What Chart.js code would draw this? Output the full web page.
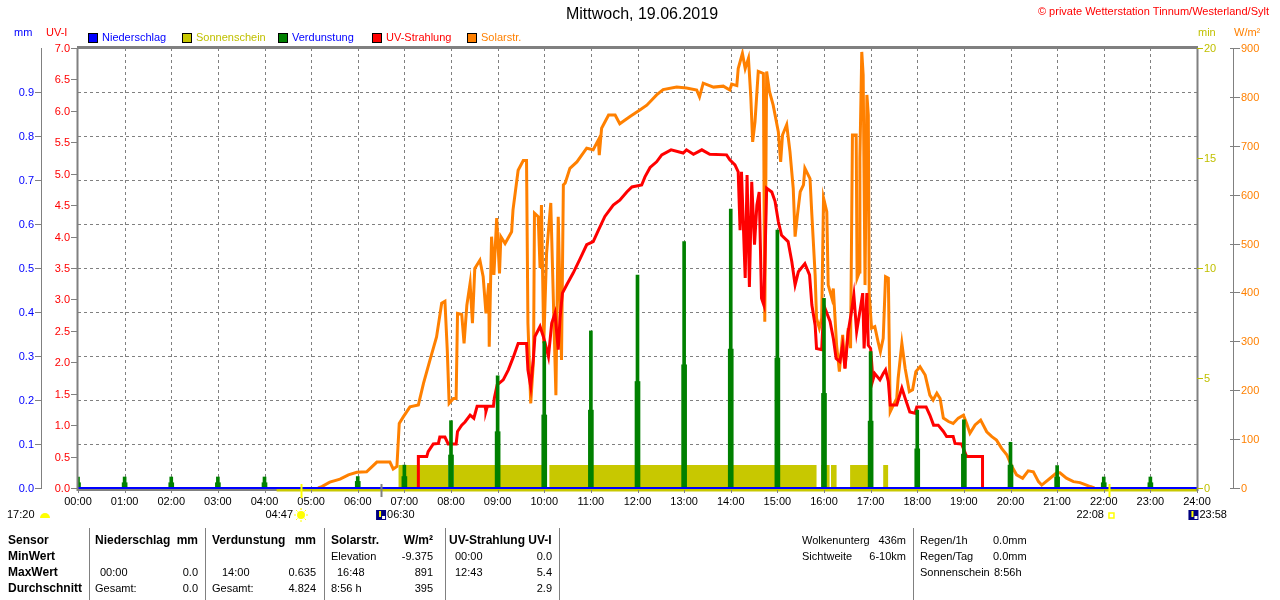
<!DOCTYPE html>
<html>
<head>
<meta charset="utf-8">
<title>Mittwoch, 19.06.2019</title>
<script src="https://cdn.jsdelivr.net/npm/chart.js"></script>
<style>
  body { margin: 0; background: #fff; }
  canvas { display: block; }
</style>
</head>
<body>
<canvas id="wetter" width="1280" height="600"></canvas>
<script>
// --- Beschriftungen ---
const hourLabels = ['00:00','01:00','02:00','03:00','04:00','05:00','06:00','07:00','08:00','09:00','10:00','11:00','12:00',
  '13:00','14:00','15:00','16:00','17:00','18:00','19:00','20:00','21:00','22:00','23:00','24:00'];
const uvTicks = [0.0,0.5,1.0,1.5,2.0,2.5,3.0,3.5,4.0,4.5,5.0,5.5,6.0,6.5,7.0];
const mmTicks = [0.0,0.1,0.2,0.3,0.4,0.5,0.6,0.7,0.8,0.9];
const minTicks = [0,5,10,15,20];
const wTicks = [0,100,200,300,400,500,600,700,800,900];

// --- Niederschlag (mm), stündlich ---
const niederschlagStunden = [0,1,2,3,4,5,6,7,8,9,10,11,12,13,14,15,16,17,18,19,20,21,22,23,24];
const niederschlag = [0,0,0,0,0,0,0,0,0,0,0,0,0,0,0,0,0,0,0,0,0,0,0,0,0];

// --- Verdunstung (mm), stündlich ---
const verdunstungStunden = [0,1,2,3,4,5,6,7,8,9,10,11,12,13,14,15,16,17,18,19,20,21,22,23];
const verdunstung =      [0.025,0.025,0.025,0.025,0.025,0,0.026,0.052,0.153,0.255,0.333,0.357,0.484,0.560,0.634,0.586,0.431,0.310,0.177,0.155,0.104,0.051,0.025,0.025];
const verdunstungUnten = [0.012,0.012,0.012,0.012,0.012,0,0.015,0.026,0.075,0.128,0.166,0.177,0.242,0.280,0.316,0.295,0.215,0.152,0.089,0.077,0.052,0.025,0.012,0.012];

// --- Sonnenschein (min), Intervalle in Stunden ---
const sonneVon = [6.87, 8.06, 10.11, 15.94, 16.15, 16.56, 17.27];
const sonneBis = [7.94, 10.04, 15.84, 16.12, 16.27, 16.97, 17.38];
const sonneMin = [1.05, 1.05, 1.05, 1.05, 1.05, 1.05, 1.05];
const daemmerungVon = 4.26;
const daemmerungBis = 24;

// --- UV-Strahlung (UV-I) ---
const uvZeit = [7.30,7.30,7.48,7.51,7.62,7.73,7.76,7.87,7.94,8.11,8.14,8.23,8.30,8.41,8.49,8.56,8.73,8.75,8.78,8.91,8.93,8.99,
  9.12,9.23,9.34,9.44,9.62,9.65,9.71,9.77,9.80,9.91,9.98,10.02,10.09,10.16,10.23,10.30,10.34,10.39,10.48,10.62,10.77,10.91,
  11.05,11.16,11.30,11.48,11.62,11.77,11.88,12.09,12.16,12.27,12.41,12.52,12.72,12.98,13.05,13.20,13.38,13.55,13.91,13.98,
  14.09,14.16,14.20,14.23,14.31,14.35,14.40,14.45,14.51,14.56,14.61,14.66,14.71,14.77,14.88,14.95,15.02,15.09,15.23,15.31,
  15.38,15.45,15.59,15.69,15.74,15.81,15.84,15.95,15.99,16.02,16.13,16.20,16.26,16.34,16.40,16.45,16.52,16.59,16.64,16.70,
  16.77,16.83,16.86,16.92,16.95,17.00,17.05,17.09,17.20,17.27,17.32,17.38,17.42,17.56,17.67,17.74,17.84,17.95,17.99,18.19,
  18.27,18.35,18.45,18.56,18.63,18.77,18.81,18.95,19.06,19.40,19.40];
const uvWert = [0,0.50,0.50,0.58,0.70,0.71,0.81,0.81,0.70,0.70,0.90,1.00,1.05,1.16,1.11,1.30,1.30,1.22,1.30,1.30,1.43,1.64,
  1.72,1.88,2.09,2.30,2.30,1.88,1.61,2.09,2.41,2.57,2.41,2.30,2.09,2.62,2.78,2.20,2.72,3.10,3.23,3.42,3.65,3.87,
  3.92,4.10,4.32,4.50,4.58,4.71,4.79,4.82,4.95,5.10,5.19,5.30,5.38,5.33,5.38,5.31,5.38,5.31,5.30,5.22,
  5.14,5.03,4.10,5.03,3.34,4.98,3.20,4.87,3.87,4.50,4.71,3.02,2.91,4.77,4.71,4.56,4.24,4.02,3.92,3.60,
  3.23,3.44,3.57,3.39,2.91,2.59,2.22,2.20,2.81,2.86,2.65,2.38,2.06,2.01,2.27,1.90,2.49,2.81,3.07,2.49,
  2.81,3.10,2.22,3.10,2.27,2.22,1.72,1.82,1.72,1.82,1.88,1.69,1.32,1.32,1.59,1.43,1.21,1.19,1.29,1.29,
  1.16,1.00,1.00,0.90,0.82,0.82,0.71,0.70,0.50,0.50,0];

// --- Solarstrahlung (W/m²) ---
const solarZeit = [5.15,5.23,5.40,5.62,5.80,5.98,6.19,6.41,6.69,6.76,6.84,6.89,6.98,7.12,7.30,7.41,7.55,7.69,7.80,7.87,7.92,7.96,
  8.05,8.11,8.14,8.23,8.28,8.34,8.41,8.46,8.51,8.62,8.69,8.75,8.81,8.82,8.87,8.92,8.98,9.04,9.07,9.16,9.30,9.33,9.44,9.55,
  9.62,9.65,9.71,9.77,9.79,9.87,9.91,9.94,9.99,10.05,10.14,10.25,10.30,10.37,10.41,10.45,10.55,10.70,10.91,11.05,11.16,11.18,
  11.23,11.38,11.52,11.62,11.84,12.05,12.20,12.41,12.55,12.84,13.05,13.27,13.33,13.41,13.63,13.84,13.98,14.02,14.13,14.16,
  14.25,14.31,14.38,14.43,14.47,14.52,14.59,14.70,14.73,14.77,14.83,14.91,15.02,15.07,15.11,15.20,15.27,15.34,15.38,15.43,
  15.49,15.56,15.59,15.70,15.74,15.81,15.84,15.90,15.95,15.99,16.06,16.09,16.17,16.20,16.27,16.33,16.40,16.45,16.52,16.57,
  16.61,16.69,16.71,16.76,16.77,16.81,16.84,16.88,16.92,16.95,16.97,17.02,17.09,17.16,17.21,17.27,17.32,17.38,17.42,17.49,
  17.56,17.59,17.67,17.74,17.83,17.90,17.97,18.06,18.17,18.27,18.34,18.42,18.49,18.56,18.67,18.77,18.88,18.99,19.06,19.13,
  19.24,19.36,19.49,19.60,19.70,19.81,19.92,20.03,20.13,20.26,20.38,20.49,20.60,20.67,20.85,20.99,21.06,21.20,21.35,21.49,
  21.63,21.71,21.80];
const solarWert = [0,3,12,18,27,32,33,53,53,39,44,132,146,166,170,214,262,309,378,382,282,173,
  183,183,357,355,296,374,419,337,449,466,432,357,419,289,514,436,552,439,514,500,524,569,650,670,
  670,337,173,262,562,555,450,579,296,480,583,190,555,262,620,624,654,667,695,692,712,681,
  736,763,763,745,760,773,783,804,815,820,818,814,800,828,820,822,814,826,823,858,
  889,858,879,800,708,749,852,848,340,852,811,783,729,667,722,743,688,613,514,558,
  606,620,654,633,558,436,347,327,347,593,565,415,388,408,292,238,313,245,327,286,
  722,722,429,442,674,892,845,415,804,763,395,327,330,299,279,306,432,429,156,170,
  183,224,296,245,197,201,238,248,231,190,180,194,183,143,136,132,143,149,132,112,
  129,139,115,105,98,81,68,44,27,20,35,33,13,6,20,31,31,20,13,11,
  6,3,0];

// Sonnen- und Mondzeiten (Stunden)
const sonnenaufgang = 4 + 47 / 60;
const sonnenuntergang = 22 + 8 / 60;
const mondaufgang = 6.5;
const monduntergang = 23 + 58 / 60;

const OLIV = '#c8c800';
const OLIV_TXT = '#c0c000';
const ORANGE = '#ff8000';
const ROT = '#ff0000';
const GRUEN = '#008000';
const BLAU = '#0000ff';
const GRAU = '#808080';
const FONT = '11px "Liberation Sans", Arial, sans-serif';
const FONT_B = 'bold 12px "Liberation Sans", Arial, sans-serif';

function pts(xs, ys) { return xs.map((x, i) => ({ x: x, y: ys[i] })); }

const sonnePunkte = [];
sonneVon.forEach((a, i) => {
  sonnePunkte.push({ x: a, y: 0 }, { x: a, y: sonneMin[i] }, { x: sonneBis[i], y: sonneMin[i] }, { x: sonneBis[i], y: 0 });
});

function txt(ctx, s, x, y, color, align, font) {
  ctx.font = font || FONT;
  ctx.fillStyle = color || '#000';
  ctx.textAlign = align || 'left';
  ctx.textBaseline = 'middle';
  ctx.fillText(s, x, y);
}

function hline(ctx, x1, x2, y, color, w) {
  ctx.strokeStyle = color; ctx.lineWidth = w || 1;
  ctx.beginPath(); ctx.moveTo(x1, y); ctx.lineTo(x2, y); ctx.stroke();
}
function vline(ctx, x, y1, y2, color, w) {
  ctx.strokeStyle = color; ctx.lineWidth = w || 1;
  ctx.beginPath(); ctx.moveTo(x, y1); ctx.lineTo(x, y2); ctx.stroke();
}

function mondIcon(ctx, x, y) {
  ctx.fillStyle = '#000080';
  ctx.fillRect(x - 5, y - 5, 10, 10);
  ctx.fillStyle = '#ffffff';
  ctx.fillRect(x + 1, y + 1, 3, 3);
  ctx.fillStyle = '#ffff00';
  ctx.fillRect(x - 2, y - 4, 2, 6);
}

const rahmen = {
  id: 'rahmen',
  beforeDatasetsDraw(chart) {
    const { ctx, chartArea: a, scales } = chart;
    ctx.save();
    ctx.setLineDash([3, 3]);
    for (let h = 1; h < 24; h++) {
      const x = Math.round(scales.x.getPixelForValue(h)) + 0.5;
      vline(ctx, x, a.top, a.bottom, GRAU, 1);
    }
    mmTicks.forEach(v => {
      if (v <= 0) return;
      const y = Math.round(scales.yMM.getPixelForValue(v)) + 0.5;
      hline(ctx, a.left, a.right, y, GRAU, 1);
    });
    ctx.setLineDash([]);
    // untere Achse
    hline(ctx, a.left, a.right, a.bottom + 2, GRAU, 2);
    ctx.restore();
  },
  afterDraw(chart) {
    const { ctx, chartArea: a, scales } = chart;
    const sx = scales.x;
    ctx.save();

    // Rahmen
    hline(ctx, a.left - 1, a.right + 1, a.top - 0.5, GRAU, 3);
    vline(ctx, a.left - 0.5, a.top, a.bottom + 3, GRAU, 2);
    vline(ctx, a.right + 0.5, a.top, a.bottom + 3, GRAU, 2);
    for (let h = 0; h <= 24; h++) {
      const x = Math.round(sx.getPixelForValue(h)) + 0.5;
      vline(ctx, x, a.bottom + 2, a.bottom + 5, GRAU, 1);
    }

    // Titel
    txt(ctx, 'Mittwoch, 19.06.2019', 642, 15, '#000', 'center', '16px "Liberation Sans", Arial, sans-serif');
    txt(ctx, '\u00a9 private Wetterstation Tinnum/Westerland/Sylt', 1269, 12, ROT, 'right', '11px "Liberation Sans", Arial, sans-serif');

    // Achsentitel
    txt(ctx, 'mm', 14, 33, BLAU);
    txt(ctx, 'UV-I', 46, 33, ROT);
    txt(ctx, 'min', 1198, 33, OLIV_TXT);
    txt(ctx, 'W/m\u00b2', 1234, 33, ORANGE);

    // Legende
    const leg = [
      ['Niederschlag', BLAU, BLAU, 88],
      ['Sonnenschein', OLIV, OLIV_TXT, 182],
      ['Verdunstung', GRUEN, BLAU, 278],
      ['UV-Strahlung', ROT, ROT, 372],
      ['Solarstr.', ORANGE, ORANGE, 467]
    ];
    leg.forEach(([name, fill, col, x]) => {
      ctx.fillStyle = fill;
      ctx.fillRect(x, 33, 10, 10);
      ctx.strokeStyle = '#000'; ctx.lineWidth = 1;
      ctx.strokeRect(x + 0.5, 33.5, 9, 9);
      txt(ctx, name, x + 14, 38, col);
    });

    // linke Achsen
    vline(ctx, 41.5, a.top, a.bottom, GRAU, 1);
    mmTicks.forEach(v => {
      const y = Math.round(scales.yMM.getPixelForValue(v)) + 0.5;
      hline(ctx, 35, 42, y, GRAU, 1);
      txt(ctx, v.toFixed(1), 34, y, BLAU, 'right');
    });
    uvTicks.forEach(v => {
      const y = Math.round(scales.yUV.getPixelForValue(v)) + 0.5;
      hline(ctx, 71, 78, y, GRAU, 1);
      txt(ctx, v.toFixed(1), 70, y, ROT, 'right');
    });

    // rechte Achsen
    minTicks.forEach(v => {
      const y = Math.round(scales.yMin.getPixelForValue(v)) + 0.5;
      hline(ctx, a.right, a.right + 6, y, OLIV_TXT, 1);
      txt(ctx, String(v), a.right + 7, y, OLIV_TXT);
    });
    vline(ctx, 1233.5, a.top, a.bottom, GRAU, 1);
    wTicks.forEach(v => {
      const y = Math.round(scales.yW.getPixelForValue(v)) + 0.5;
      hline(ctx, 1230, 1240, y, GRAU, 1);
      txt(ctx, String(v), 1241, y, ORANGE);
    });

    // Zeitachse
    hourLabels.forEach((l, i) => {
      txt(ctx, l, sx.getPixelForValue(i), 502, '#000', 'center');
    });

    // Sonne / Mond
    const yIc = 515;
    txt(ctx, '17:20', 7, yIc, '#000');
    ctx.fillStyle = '#ffff00';
    ctx.beginPath(); ctx.arc(45, yIc + 3, 5, Math.PI, 2 * Math.PI); ctx.fill();

    const xa = sx.getPixelForValue(sonnenaufgang);
    vline(ctx, Math.round(xa) + 0.5, a.bottom - 4, a.bottom + 10, '#ffff00', 2);
    txt(ctx, '04:47', xa - 8, yIc, '#000', 'right');
    ctx.fillStyle = '#ffff00';
    ctx.beginPath(); ctx.arc(xa, yIc, 4, 0, 2 * Math.PI); ctx.fill();
    ctx.strokeStyle = '#ffff00'; ctx.lineWidth = 1;
    for (let k = 0; k < 8; k++) {
      const w = k * Math.PI / 4;
      ctx.beginPath();
      ctx.moveTo(xa + Math.cos(w) * 5, yIc + Math.sin(w) * 5);
      ctx.lineTo(xa + Math.cos(w) * 7, yIc + Math.sin(w) * 7);
      ctx.stroke();
    }

    const xm = sx.getPixelForValue(mondaufgang);
    vline(ctx, Math.round(xm) + 0.5, a.bottom - 4, a.bottom + 9, GRAU, 2);
    mondIcon(ctx, xm, yIc);
    txt(ctx, '06:30', xm + 6, yIc, '#000');

    const xu = sx.getPixelForValue(sonnenuntergang);
    vline(ctx, Math.round(xu) - 0.5, a.bottom - 4, a.bottom + 9, '#ffff00', 2);
    txt(ctx, '22:08', xu - 6, yIc, '#000', 'right');
    ctx.strokeStyle = '#ffff00'; ctx.lineWidth = 1.5;
    ctx.strokeRect(xu - 1, yIc - 2, 5, 5);

    const xmu = sx.getPixelForValue(monduntergang);
    mondIcon(ctx, xmu - 2, yIc);
    txt(ctx, '23:58', xmu + 4, yIc, '#000');

    // Tabelle
    [89, 205, 324, 445, 559, 913].forEach(x => vline(ctx, x + 0.5, 528, 600, GRAU, 1));
    const r = [541, 557, 573, 589];
    txt(ctx, 'Sensor', 8, r[0], '#000', 'left', FONT_B);
    txt(ctx, 'MinWert', 8, r[1], '#000', 'left', FONT_B);
    txt(ctx, 'MaxWert', 8, r[2], '#000', 'left', FONT_B);
    txt(ctx, 'Durchschnitt', 8, r[3], '#000', 'left', FONT_B);

    txt(ctx, 'Niederschlag', 95, r[0], '#000', 'left', FONT_B);
    txt(ctx, 'mm', 198, r[0], '#000', 'right', FONT_B);
    txt(ctx, '00:00', 100, r[2]);
    txt(ctx, '0.0', 198, r[2], '#000', 'right');
    txt(ctx, 'Gesamt:', 95, r[3]);
    txt(ctx, '0.0', 198, r[3], '#000', 'right');

    txt(ctx, 'Verdunstung', 212, r[0], '#000', 'left', FONT_B);
    txt(ctx, 'mm', 316, r[0], '#000', 'right', FONT_B);
    txt(ctx, '14:00', 222, r[2]);
    txt(ctx, '0.635', 316, r[2], '#000', 'right');
    txt(ctx, 'Gesamt:', 212, r[3]);
    txt(ctx, '4.824', 316, r[3], '#000', 'right');

    txt(ctx, 'Solarstr.', 331, r[0], '#000', 'left', FONT_B);
    txt(ctx, 'W/m\u00b2', 433, r[0], '#000', 'right', FONT_B);
    txt(ctx, 'Elevation', 331, r[1]);
    txt(ctx, '-9.375', 433, r[1], '#000', 'right');
    txt(ctx, '16:48', 337, r[2]);
    txt(ctx, '891', 433, r[2], '#000', 'right');
    txt(ctx, '8:56 h', 331, r[3]);
    txt(ctx, '395', 433, r[3], '#000', 'right');

    txt(ctx, 'UV-Strahlung UV-I', 449, r[0], '#000', 'left', FONT_B);
    txt(ctx, '00:00', 455, r[1]);
    txt(ctx, '0.0', 552, r[1], '#000', 'right');
    txt(ctx, '12:43', 455, r[2]);
    txt(ctx, '5.4', 552, r[2], '#000', 'right');
    txt(ctx, '2.9', 552, r[3], '#000', 'right');

    txt(ctx, 'Wolkenunterg', 802, r[0]);
    txt(ctx, '436m', 906, r[0], '#000', 'right');
    txt(ctx, 'Sichtweite', 802, r[1]);
    txt(ctx, '6-10km', 906, r[1], '#000', 'right');
    txt(ctx, 'Regen/1h', 920, r[0]);
    txt(ctx, '0.0mm', 993, r[0]);
    txt(ctx, 'Regen/Tag', 920, r[1]);
    txt(ctx, '0.0mm', 993, r[1]);
    txt(ctx, 'Sonnenschein', 920, r[2]);
    txt(ctx, '8:56h', 994, r[2]);

    ctx.restore();
  }
};

new Chart(document.getElementById('wetter').getContext('2d'), {
  type: 'line',
  data: {
    datasets: [
      { label: 'Niederschlag', data: pts(niederschlagStunden, niederschlag), yAxisID: 'yMM',
        borderColor: BLAU, borderWidth: 2, pointRadius: 0, clip: false },
      { type: 'bar', label: 'Verdunstung', data: pts(verdunstungStunden, verdunstung), yAxisID: 'yMM',
        backgroundColor: GRUEN, barThickness: 3, grouped: false },
      { type: 'bar', label: 'Verdunstung2', data: pts(verdunstungStunden, verdunstungUnten), yAxisID: 'yMM',
        backgroundColor: GRUEN, barThickness: 5, grouped: false },
      { label: 'UV-Strahlung', data: pts(uvZeit, uvWert), yAxisID: 'yUV',
        borderColor: ROT, borderWidth: 3, pointRadius: 0, tension: 0 },
      { label: 'Solarstr.', data: pts(solarZeit, solarWert), yAxisID: 'yW',
        borderColor: ORANGE, borderWidth: 3, pointRadius: 0, tension: 0 },
      { label: 'Sonnenschein', data: sonnePunkte, yAxisID: 'yMin',
        borderWidth: 0, borderColor: OLIV, backgroundColor: OLIV, fill: 'origin', pointRadius: 0 },
      { label: 'Daemmerung', data: [{ x: daemmerungVon, y: -0.09 }, { x: daemmerungBis, y: -0.09 }], yAxisID: 'yMin',
        borderColor: OLIV, borderWidth: 3, pointRadius: 0, clip: false }
    ]
  },
  options: {
    responsive: false,
    animation: false,
    devicePixelRatio: 1,
    events: [],
    layout: { padding: { left: 78, top: 48, right: 83, bottom: 112 } },
    plugins: { legend: { display: false }, tooltip: { enabled: false }, title: { display: false } },
    scales: {
      x: { type: 'linear', min: 0, max: 24, offset: false, grid: { offset: false }, display: false },
      yUV: { type: 'linear', position: 'left', min: 0, max: 7, display: false },
      yMM: { type: 'linear', position: 'left', min: 0, max: 1, display: false },
      yMin: { type: 'linear', position: 'right', min: 0, max: 20, display: false },
      yW: { type: 'linear', position: 'right', min: 0, max: 900, display: false }
    }
  },
  plugins: [rahmen]
});
</script>
</body>
</html>
